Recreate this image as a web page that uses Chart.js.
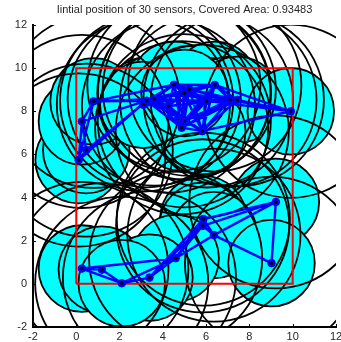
<!DOCTYPE html>
<html>
<head>
<meta charset="utf-8">
<script src="https://cdn.jsdelivr.net/npm/chart.js@4.4.1/dist/chart.umd.min.js"></script>
<style>
  html, body { margin: 0; padding: 0; background: #fff; }
  #wrap { width: 341px; height: 342px; position: relative; }
</style>
</head>
<body>
<div id="wrap"><canvas id="c"></canvas></div>
<script>
// sensor positions
const SENSOR_X = [0.11, 0.46, 0.26, 0.80, 3.25, 3.60, 4.26, 4.51, 4.97, 5.22,
                  6.40, 6.02, 7.10, 7.44, 9.91, 4.99, 4.87, 5.82, 3.10, 5.00,
                  9.22, 5.87, 5.84, 6.36, 4.59, 9.02, 0.26, 1.18, 3.38, 2.10];
const SENSOR_Y = [5.74, 6.20, 7.53, 8.46, 8.49, 8.57, 8.24, 9.23, 8.83, 9.02,
                  9.22, 8.48, 8.53, 8.53, 8.00, 7.56, 7.24, 7.08, 8.30, 8.85,
                  3.80, 3.00, 2.69, 2.26, 1.19, 0.96, 0.71, 0.66, 0.29, 0.03];

// links between sensors (index pairs)
const EDGES = [
  [0,1],[0,2],[0,3],[0,4],[1,2],[1,4],[2,3],[2,4],[3,4],[3,7],[3,5],
  [4,5],[4,6],[4,7],[4,8],[4,9],[4,15],[4,16],[4,11],[4,12],[4,13],
  [5,7],[5,9],[5,6],[5,15],[5,16],[5,17],[5,11],
  [6,7],[6,8],[6,9],[6,15],[6,16],[6,17],[6,11],[6,12],
  [7,8],[7,9],[7,10],[7,11],[7,12],[7,15],[7,16],
  [8,9],[8,10],[8,11],[8,12],[8,13],[8,15],[8,16],[8,17],
  [9,10],[9,11],[9,12],[9,13],[9,15],[9,17],
  [10,11],[10,12],[10,13],[10,14],[10,15],[10,16],[10,17],
  [11,12],[11,13],[11,14],[11,15],[11,16],[11,17],
  [12,13],[12,14],[12,15],[12,16],[12,17],
  [13,14],[13,15],[13,16],[13,17],[14,17],[15,16],[15,17],[16,17],
  [18,4],[18,6],[19,8],[19,9],
  [20,21],[20,22],[20,23],[20,25],[21,22],[21,23],[22,23],[23,25],
  [24,21],[24,22],[24,23],[28,21],[28,22],[28,24],[29,28],[29,24],
  [26,27],[26,29],[27,29],[26,24]
];

const SENSE_R = 2;   // filled coverage disk
const COMM_R = 4;    // outline circle
const AREA_X = [0, 10, 10, 0, 0];
const AREA_Y = [0, 0, 10, 10, 0];
const TICKS = [-2, 0, 2, 4, 6, 8, 10, 12];

const sensors = SENSOR_X.map((x, i) => ({ x, y: SENSOR_Y[i] }));
const edgePts = [];
EDGES.forEach(([a, b]) => {
  edgePts.push(sensors[a], sensors[b], { x: null, y: null });
});
const areaPts = AREA_X.map((x, i) => ({ x, y: AREA_Y[i] }));

// data units -> pixels using the x scale
function unitPx(chart, r) {
  const s = chart.scales.x;
  if (!s) return 0;
  const v = Math.abs(s.getPixelForValue(r) - s.getPixelForValue(0));
  return isFinite(v) ? v : 0;
}

const font = { family: "'Liberation Sans', Arial, sans-serif", size: 11 };

// MATLAB-like inward tick marks
const inwardTicks = {
  id: 'inwardTicks',
  afterDraw(chart) {
    const { ctx, chartArea: a, scales: { x, y } } = chart;
    ctx.save();
    ctx.strokeStyle = '#000';
    ctx.lineWidth = 1;
    ctx.beginPath();
    x.ticks.forEach(t => {
      const px = Math.round(x.getPixelForValue(t.value)) + 0.5;
      ctx.moveTo(px, a.bottom); ctx.lineTo(px, a.bottom - 3);
    });
    y.ticks.forEach(t => {
      const py = Math.round(y.getPixelForValue(t.value)) + 0.5;
      ctx.moveTo(a.left, py); ctx.lineTo(a.left + 3, py);
    });
    ctx.stroke();
    ctx.restore();
  }
};

new Chart(document.getElementById('c'), {
  type: 'scatter',
  data: {
    datasets: [
      {
        data: sensors, order: 5, clip: 0,
        pointStyle: 'circle',
        pointRadius: c => unitPx(c.chart, SENSE_R),
        pointBackgroundColor: '#00ffff',
        pointBorderColor: '#000',
        pointBorderWidth: 1.8,
      },
      {
        data: sensors, order: 4, clip: 0,
        pointStyle: 'circle',
        pointRadius: c => unitPx(c.chart, COMM_R),
        pointBackgroundColor: 'rgba(0,0,0,0)',
        pointBorderColor: '#000',
        pointBorderWidth: 1.8,
      },
      {
        data: areaPts, order: 3, clip: 0,
        showLine: true, borderColor: '#ff0000', borderWidth: 2,
        pointRadius: 0, fill: false,
      },
      {
        data: edgePts, order: 2, clip: 0,
        showLine: true, spanGaps: false,
        borderColor: '#0000ff', borderWidth: 2.4,
        pointRadius: 0, fill: false,
      },
      {
        data: sensors, order: 1, clip: 0,
        pointStyle: 'circle', pointRadius: 3.8,
        pointBackgroundColor: '#0000ff', pointBorderColor: '#0000ff', pointBorderWidth: 1,
      },
      {
        data: sensors, order: 0, clip: 0,
        pointStyle: 'circle', pointRadius: 1.7,
        pointBackgroundColor: '#000', pointBorderWidth: 0,
      },
    ],
  },
  options: {
    responsive: true,
    maintainAspectRatio: false,
    animation: false,
    events: [],
    layout: { padding: { left: 0, right: 4, top: 0, bottom: 0 } },
    plugins: {
      legend: { display: false },
      tooltip: { enabled: false },
      title: {
        display: true,
        fullSize: false,
        text: 'Iintial position of 30 sensors, Covered Area: 0.93483',
        color: '#262626',
        font: { ...font, weight: 'normal' },
        padding: { top: 3, bottom: 8.8 },
      },
    },
    scales: {
      x: {
        type: 'linear', min: -2, max: 12,
        afterBuildTicks: s => { s.ticks = TICKS.map(v => ({ value: v })); },
        afterFit: s => { s.height = 15; s.paddingLeft = 0; s.paddingRight = 0; },
        grid: { display: false, drawTicks: false },
        border: { display: true, color: '#000', width: 2 },
        ticks: { color: '#262626', font, padding: 3, maxRotation: 0, autoSkip: false },
      },
      y: {
        type: 'linear', min: -2, max: 12,
        afterBuildTicks: s => { s.ticks = TICKS.map(v => ({ value: v })); },
        afterFit: s => { s.width = 33; },
        grid: { display: false, drawTicks: false },
        border: { display: true, color: '#000', width: 2 },
        ticks: { color: '#262626', font, padding: 6, autoSkip: false },
      },
    },
  },
  plugins: [inwardTicks],
});
</script>
</body>
</html>
